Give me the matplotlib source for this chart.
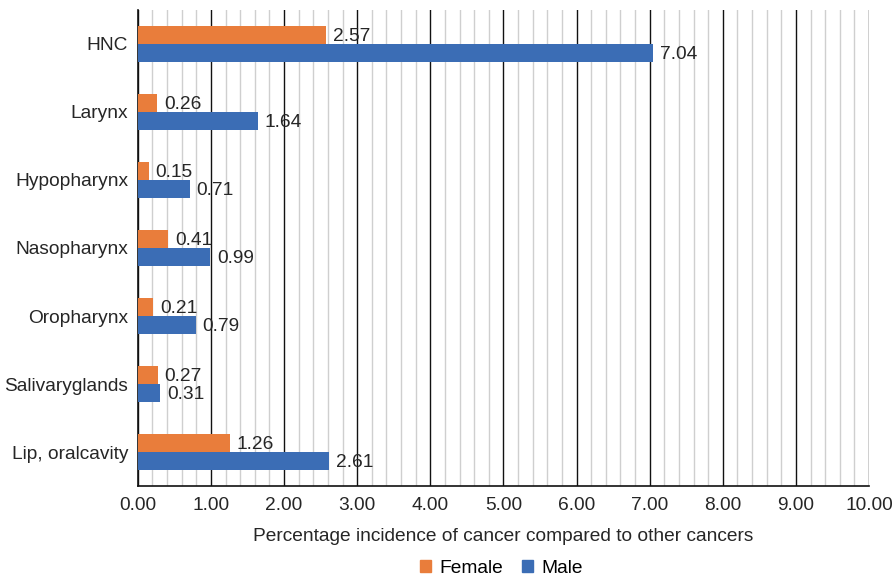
import numpy as np
import matplotlib.pyplot as plt
from matplotlib.ticker import MultipleLocator
from matplotlib.patches import Patch

plt.rcParams['font.family'] = ['Liberation Sans', 'DejaVu Sans']

sites = ["HNC", "Larynx", "Hypopharynx", "Nasopharynx", "Oropharynx",
         "Salivaryglands", "Lip, oralcavity"]
female = [2.57, 0.26, 0.15, 0.41, 0.21, 0.27, 1.26]
male = [7.04, 1.64, 0.71, 0.99, 0.79, 0.31, 2.61]

ORANGE = "#E97D3B"
BLUE = "#3B6DB5"
TXT = "#262626"
FS = 13.8

fig = plt.figure(figsize=(8.95, 5.78), dpi=100)
ax = fig.add_axes([0.154, 0.159, 0.817, 0.824])

y = np.arange(len(sites))[::-1]
h = 0.265
bf = ax.barh(y + h / 2, female, h, color=ORANGE, zorder=3)
bm = ax.barh(y - h / 2, male, h, color=BLUE, zorder=3)

for bars, vals in ((bf, female), (bm, male)):
    for b, v in zip(bars, vals):
        ax.annotate(f"{v:.2f}", (v, b.get_y() + b.get_height() / 2),
                    xytext=(5, -1), textcoords="offset points",
                    va="center", ha="left", fontsize=FS, color=TXT, zorder=4)

ax.set_xlim(0, 10)
ax.set_ylim(-0.5, len(sites) - 0.5)
ax.xaxis.set_minor_locator(MultipleLocator(0.2))
ax.set_xticks(np.arange(0, 11, 1))
ax.set_xticklabels([f"{v:.2f}" for v in np.arange(0, 11, 1)])
ax.grid(axis="x", which="major", color="#111111", lw=1.0, zorder=1)
ax.grid(axis="x", which="minor", color="#cfcfcf", lw=1.0, zorder=0)
ax.set_yticks(y)
ax.set_yticklabels(sites)
ax.tick_params(axis="both", which="both", length=0, labelsize=FS, colors=TXT)
ax.tick_params(axis="x", pad=8)
ax.tick_params(axis="y", pad=7)

for s in ("top", "right"):
    ax.spines[s].set_visible(False)
for s in ("left", "bottom"):
    ax.spines[s].set_color("#111111")
    ax.spines[s].set_linewidth(1.2)

ax.set_xlabel("Percentage incidence of cancer compared to other cancers",
              fontsize=FS, color=TXT, labelpad=10)

handles = [Patch(color=ORANGE, label="Female"), Patch(color=BLUE, label="Male")]
fig.legend(handles=handles, loc="center", bbox_to_anchor=(0.56, 0.017),
           ncol=2, frameon=False, fontsize=FS, handlelength=0.6,
           handleheight=0.6, handletextpad=0.4, columnspacing=1.0)

fig.savefig("out.png", dpi=100)
